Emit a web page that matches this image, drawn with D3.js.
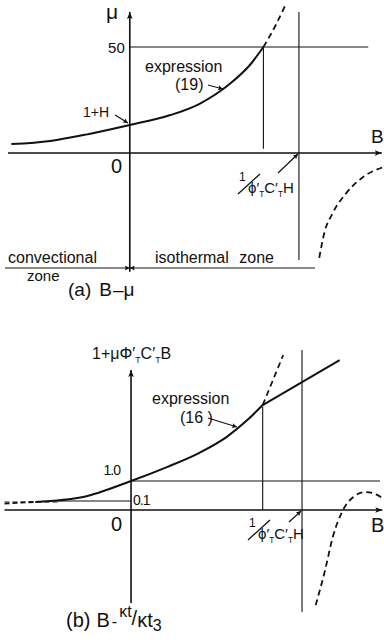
<!DOCTYPE html>
<html>
<head>
<meta charset="utf-8">
<script src="https://cdn.jsdelivr.net/npm/d3@7"></script>
<style>
  body { margin: 0; background: #fff; }
  svg text { font-family: "Liberation Sans", Arial, sans-serif; fill: #111; }
</style>
</head>
<body>
<div id="chart"></div>
<script>
// panel (a): B - mu (B in units of 1/(phi'C'H))
var muSolid = [[-0.70, 4.2], [-0.47, 5.7], [-0.24, 9.0], [0, 13.2], [0.24, 17.9],
               [0.41, 23.1], [0.59, 32.5], [0.71, 41.5], [0.79, 50]];
var muDashUp = [[0.79, 50], [0.86, 59.9], [0.92, 69.8]];
var muDashLow = [[1.12, -49.5], [1.15, -37.7], [1.20, -28.3], [1.28, -18.9], [1.38, -11.3], [1.50, -6.6]];
var muCap = 50;      // horizontal line level
var bKnee = 0.79;    // where expression (19) reaches 50
var bPole = 1.0;     // 1/(phi'C'H)

// panel (b): B - kt/kt3
var kSolid = [[-0.56, 0.28], [-0.28, 0.45], [0, 1.0], [0.21, 1.48], [0.40, 1.97],
              [0.56, 2.52], [0.68, 3.10], [0.77, 3.62]];
var kLine = [[0.77, 3.62], [1.22, 5.17]];
var kDashUp = [[0.77, 3.62], [0.83, 4.48], [0.89, 5.34]];
var kDashLow = [[1.08, -3.28], [1.135, -2.07], [1.18, -0.93], [1.24, 0], [1.30, 0.45],
                [1.37, 0.62], [1.44, 0.52], [1.47, 0.41]];
var kDashLeft = [[-0.74, 0.22], [-0.56, 0.28]];
var kTicks = [{v: 1.0, label: "1.0"}, {v: 0.31, label: "0.1"}];
var bKneeB = 0.77;

var svg = d3.select("#chart").append("svg")
  .attr("width", 384)
  .attr("height", 642);

var defs = svg.append("defs");
defs.append("marker").attr("id", "arr")
  .attr("viewBox", "0 0 10 10").attr("refX", 10).attr("refY", 5)
  .attr("markerWidth", 11).attr("markerHeight", 7).attr("markerUnits", "userSpaceOnUse")
  .attr("orient", "auto")
  .append("path").attr("d", "M0,1 L10,5 L0,9 L2,5 Z").attr("fill", "#111");
defs.append("marker").attr("id", "arrS")
  .attr("viewBox", "0 0 10 10").attr("refX", 10).attr("refY", 5)
  .attr("markerWidth", 7).attr("markerHeight", 5).attr("markerUnits", "userSpaceOnUse")
  .attr("orient", "auto")
  .append("path").attr("d", "M0,0 L10,5 L0,10 L2,5 Z").attr("fill", "#111");

// text with subscripts: parts = [text, isSub]
function subText(g, x, y, size, parts) {
  var t = g.append("text").attr("x", x).attr("y", y).attr("font-size", size);
  var down = false;
  parts.forEach(function(p) {
    var s = t.append("tspan").text(p[0]);
    if (p[1] && !down) { s.attr("font-size", size * 0.55).attr("dy", 4); down = true; }
    else if (!p[1] && down) { s.attr("dy", -4); down = false; }
  });
  return t;
}

// ---------- (a) ----------
var xa = d3.scaleLinear().domain([-0.72, 1.5]).range([8, 383.5]);
var ya = d3.scaleLinear().domain([-55, 70]).range([269.6, 4.6]);

var ga = svg.append("g");
var lineA = d3.line().x(d => xa(d[0])).y(d => ya(d[1])).curve(d3.curveMonotoneX);

// axes
ga.append("line").attr("x1", xa(-0.72)).attr("x2", xa(1.49)).attr("y1", ya(0)).attr("y2", ya(0))
  .attr("stroke", "#111").attr("stroke-width", 1.6).attr("marker-end", "url(#arr)");
ga.append("line").attr("x1", xa(0)).attr("x2", xa(0)).attr("y1", ya(-56)).attr("y2", ya(66.5))
  .attr("stroke", "#111").attr("stroke-width", 1.6).attr("marker-end", "url(#arr)");

// reference lines
ga.append("line").attr("x1", xa(0)).attr("x2", xa(1.41)).attr("y1", ya(muCap)).attr("y2", ya(muCap))
  .attr("stroke", "#111").attr("stroke-width", 1.2);
ga.append("line").attr("x1", xa(bKnee)).attr("x2", xa(bKnee)).attr("y1", ya(muCap)).attr("y2", ya(2))
  .attr("stroke", "#111").attr("stroke-width", 1.1);
ga.append("line").attr("x1", xa(bPole)).attr("x2", xa(bPole)).attr("y1", ya(66.5)).attr("y2", ya(-50.5))
  .attr("stroke", "#111").attr("stroke-width", 1.1);

// curves
ga.append("path").datum(muSolid).attr("d", lineA).attr("fill", "none")
  .attr("stroke", "#111").attr("stroke-width", 2);
ga.append("path").datum(muDashUp).attr("d", lineA).attr("fill", "none")
  .attr("stroke", "#111").attr("stroke-width", 1.8).attr("stroke-dasharray", "6,4");
ga.append("path").datum(muDashLow).attr("d", lineA).attr("fill", "none")
  .attr("stroke", "#111").attr("stroke-width", 1.8).attr("stroke-dasharray", "6,4");

// zone arrows
ga.append("line").attr("x1", 5).attr("x2", xa(0)).attr("y1", 268).attr("y2", 268)
  .attr("stroke", "#111").attr("stroke-width", 1.2).attr("marker-end", "url(#arrS)");
ga.append("line").attr("x1", xa(1.095)).attr("x2", xa(0)).attr("y1", 268).attr("y2", 268)
  .attr("stroke", "#111").attr("stroke-width", 1.2).attr("marker-end", "url(#arrS)");

// labels (a)
ga.append("text").attr("x", 106).attr("y", 19).attr("font-size", 21).text("μ");
ga.append("text").attr("x", xa(0) - 5).attr("y", ya(muCap) + 6).attr("text-anchor", "end")
  .attr("font-size", 15).text("50");
ga.append("text").attr("x", 371).attr("y", 143).attr("font-size", 19).text("B");
ga.append("text").attr("x", 111).attr("y", 173).attr("font-size", 20).text("0");
ga.append("text").attr("x", 145).attr("y", 72).attr("font-size", 16).text("expression");
ga.append("text").attr("x", 175).attr("y", 90).attr("font-size", 16).text("(19)");
ga.append("line").attr("x1", 208).attr("y1", 85).attr("x2", 223).attr("y2", 89)
  .attr("stroke", "#111").attr("stroke-width", 1.2).attr("marker-end", "url(#arrS)");
ga.append("text").attr("x", 83).attr("y", 117).attr("font-size", 14).text("1+H");
ga.append("line").attr("x1", 115).attr("y1", 115).attr("x2", 128).attr("y2", 123)
  .attr("stroke", "#111").attr("stroke-width", 1.2).attr("marker-end", "url(#arrS)");

function poleLabel(g, x0, y0, ax1, ay1, ax2, ay2) {
  g.append("text").attr("x", x0 + 1).attr("y", y0 - 12).attr("font-size", 12).text("1");
  g.append("line").attr("x1", x0).attr("y1", y0 + 1).attr("x2", x0 + 22).attr("y2", y0 - 19)
    .attr("stroke", "#111").attr("stroke-width", 1.3);
  subText(g, x0 + 10, y0, 15, [["ϕ′"], ["T", 1], ["C′"], ["T", 1], ["H"]]);
  g.append("line").attr("x1", ax1).attr("y1", ay1).attr("x2", ax2).attr("y2", ay2)
    .attr("stroke", "#111").attr("stroke-width", 1.2).attr("marker-end", "url(#arrS)");
}
poleLabel(ga, 238, 193, 278, 173, xa(bPole) - 1, ya(0) + 1);

ga.append("text").attr("x", 8).attr("y", 263).attr("font-size", 16).text("convectional");
ga.append("text").attr("x", 27).attr("y", 281).attr("font-size", 15).text("zone");
ga.append("text").attr("x", 155).attr("y", 263).attr("font-size", 16).attr("word-spacing", 6)
  .text("isothermal zone");
var ta = ga.append("text").attr("x", 68).attr("y", 296).attr("font-size", 19);
ta.append("tspan").text("(a)");
ta.append("tspan").attr("dx", 8).text("B");
ta.append("tspan").attr("dx", 1).text("–");
ta.append("tspan").text("μ");

// ---------- (b) ----------
var xb = d3.scaleLinear().domain([-0.74, 1.48]).range([4.5, 384.1]);
var yb = d3.scaleLinear().domain([-3.6, 5.6]).range([614.4, 347.6]);

var gb = svg.append("g");
var lineB = d3.line().x(d => xb(d[0])).y(d => yb(d[1])).curve(d3.curveMonotoneX);

gb.append("line").attr("x1", xb(-0.74)).attr("x2", xb(1.47)).attr("y1", yb(0)).attr("y2", yb(0))
  .attr("stroke", "#111").attr("stroke-width", 1.6).attr("marker-end", "url(#arr)");
gb.append("line").attr("x1", xb(0)).attr("x2", xb(0)).attr("y1", yb(-3.21)).attr("y2", yb(4.83))
  .attr("stroke", "#111").attr("stroke-width", 1.6).attr("marker-end", "url(#arr)");

// level lines
gb.append("line").attr("x1", xb(0)).attr("x2", xb(1.456)).attr("y1", yb(kTicks[0].v)).attr("y2", yb(kTicks[0].v))
  .attr("stroke", "#111").attr("stroke-width", 1.2);
gb.append("line").attr("x1", xb(-0.43)).attr("x2", xb(0)).attr("y1", yb(kTicks[1].v)).attr("y2", yb(kTicks[1].v))
  .attr("stroke", "#111").attr("stroke-width", 1.1);
gb.append("line").attr("x1", xb(-0.74)).attr("x2", xb(-0.43)).attr("y1", yb(kTicks[1].v) + 1).attr("y2", yb(kTicks[1].v) + 1)
  .attr("stroke", "#111").attr("stroke-width", 1.1).attr("stroke-dasharray", "5,3");
gb.append("line").attr("x1", xb(bKneeB)).attr("x2", xb(bKneeB)).attr("y1", yb(3.55)).attr("y2", yb(0))
  .attr("stroke", "#111").attr("stroke-width", 1.1);
gb.append("line").attr("x1", xb(bPole)).attr("x2", xb(bPole)).attr("y1", yb(5.52)).attr("y2", yb(-3.52))
  .attr("stroke", "#111").attr("stroke-width", 1.1);

// curves
gb.append("path").datum(kSolid).attr("d", lineB).attr("fill", "none")
  .attr("stroke", "#111").attr("stroke-width", 2);
gb.append("path").datum(kLine).attr("d", lineB).attr("fill", "none")
  .attr("stroke", "#111").attr("stroke-width", 2);
gb.append("path").datum(kDashUp).attr("d", lineB).attr("fill", "none")
  .attr("stroke", "#111").attr("stroke-width", 1.8).attr("stroke-dasharray", "6,4");
gb.append("path").datum(kDashLow).attr("d", lineB).attr("fill", "none")
  .attr("stroke", "#111").attr("stroke-width", 1.8).attr("stroke-dasharray", "6,4");
gb.append("path").datum(kDashLeft).attr("d", lineB).attr("fill", "none")
  .attr("stroke", "#111").attr("stroke-width", 1.8).attr("stroke-dasharray", "5,3");

// labels (b)
subText(gb, 92, 359, 16, [["1+μΦ′"], ["T", 1], ["C′"], ["T", 1], ["B"]]);

gb.append("text").attr("x", 152).attr("y", 404).attr("font-size", 16).text("expression");
gb.append("text").attr("x", 180).attr("y", 423).attr("font-size", 16).text("(16 )");
gb.append("line").attr("x1", 208).attr("y1", 418).attr("x2", 237).attr("y2", 427)
  .attr("stroke", "#111").attr("stroke-width", 1.2).attr("marker-end", "url(#arrS)");

gb.append("text").attr("x", xb(0) - 11).attr("y", yb(kTicks[0].v) - 6).attr("text-anchor", "end")
  .attr("font-size", 14).attr("letter-spacing", -1).text(kTicks[0].label);
gb.append("text").attr("x", xb(0) + 2).attr("y", yb(kTicks[1].v) + 4).attr("font-size", 14)
  .attr("letter-spacing", -1).text(kTicks[1].label);
gb.append("text").attr("x", 111).attr("y", 531).attr("font-size", 20).text("0");
gb.append("text").attr("x", 371).attr("y", 532).attr("font-size", 20).text("B");

poleLabel(gb, 248, 539, 289, 522, xb(bPole) - 1, yb(0) + 1);

var tb = gb.append("text").attr("x", 66).attr("y", 627).attr("font-size", 20);
tb.append("tspan").text("(b)");
tb.append("tspan").attr("dx", 6).text("B");
tb.append("tspan").attr("dx", 2).attr("font-size", 16).text("-");
tb.append("tspan").attr("dx", 2).attr("font-size", 16).attr("dy", -10).text("κt");
tb.append("tspan").attr("font-size", 20).attr("dy", 8).text("/");
tb.append("tspan").attr("font-size", 20).attr("dy", 2).text("κt");
tb.append("tspan").attr("font-size", 16).attr("dy", 4).text("3");
</script>
</body>
</html>
